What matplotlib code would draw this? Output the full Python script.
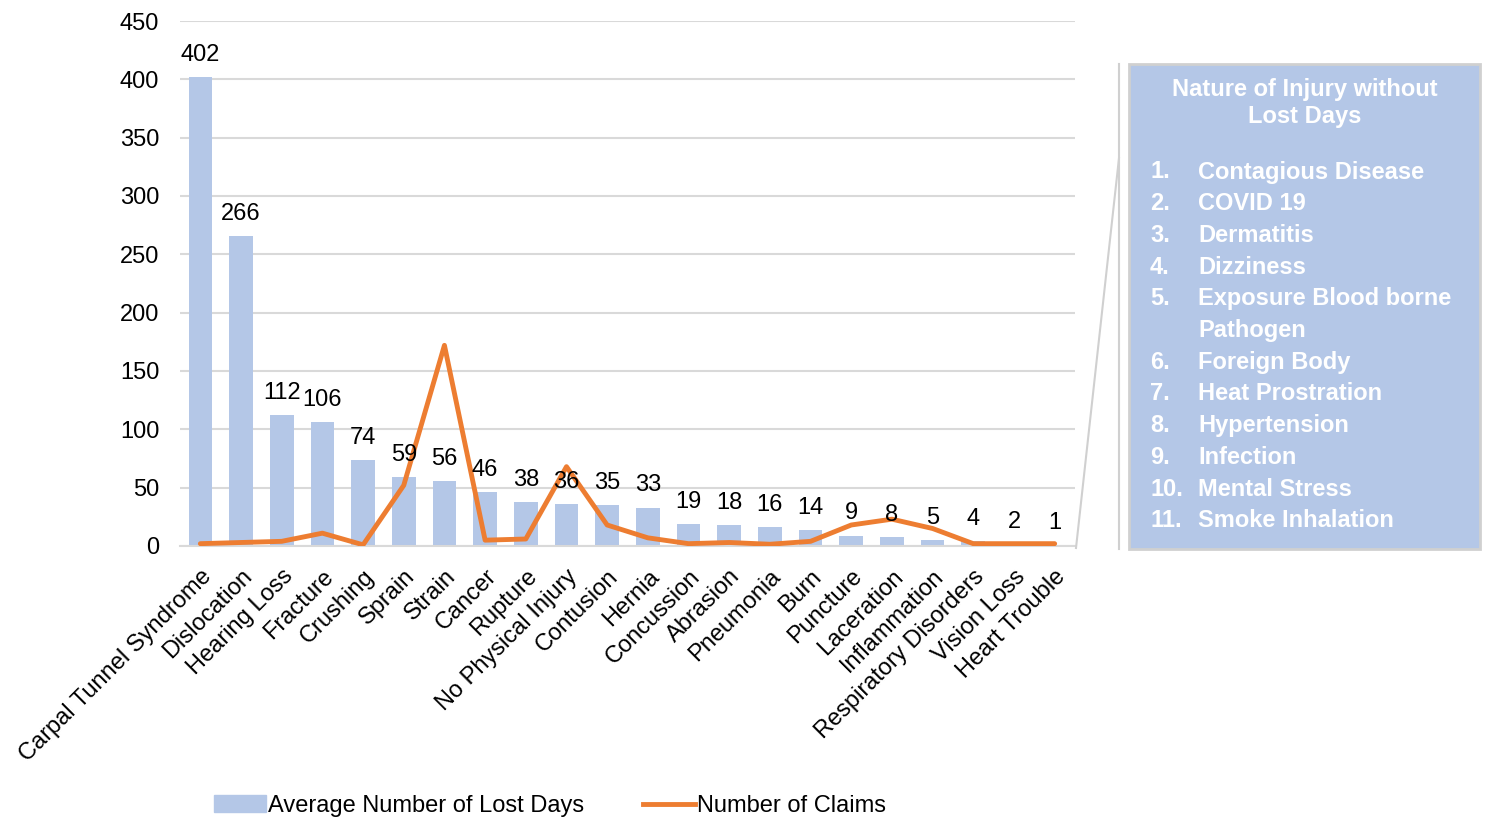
import matplotlib.pyplot as plt
from matplotlib.patches import Rectangle, Patch
from matplotlib.lines import Line2D

plt.rcParams['font.family'] = ['Liberation Sans', 'DejaVu Sans']

categories = ['Carpal Tunnel Syndrome', 'Dislocation', 'Hearing Loss', 'Fracture', 'Crushing',
              'Sprain', 'Strain', 'Cancer', 'Rupture', 'No Physical Injury', 'Contusion',
              'Hernia', 'Concussion', 'Abrasion', 'Pneumonia', 'Burn', 'Puncture',
              'Laceration', 'Inflammation', 'Respiratory Disorders', 'Vision Loss', 'Heart Trouble']
avg_lost_days = [402, 266, 112, 106, 74, 59, 56, 46, 38, 36, 35, 33, 19, 18, 16, 14, 9, 8, 5, 4, 2, 1]
num_claims = [2, 3, 4, 11, 1, 52, 172, 5, 6, 68, 18, 7, 2, 3, 1.5, 4, 18, 23, 15, 2, 2, 2]

no_lost_days = ['Contagious Disease', 'COVID 19', 'Dermatitis', 'Dizziness',
                'Exposure Blood borne\nPathogen', 'Foreign Body', 'Heat Prostration',
                'Hypertension', 'Infection', 'Mental Stress', 'Smoke Inhalation']

bar_color = '#B4C7E7'
line_color = '#ED7D31'
W, H = 1486, 819

fig = plt.figure(figsize=(W / 100, H / 100), dpi=100)
ax = fig.add_axes([180 / W, 1 - 546 / H, (1075 - 180) / W, (546 - 21) / H])

x = list(range(len(categories)))
ax.bar(x, avg_lost_days, width=0.58, color=bar_color, zorder=2)
ax.plot(x, num_claims, color=line_color, lw=3.5, solid_capstyle='round', zorder=3)

for xi, v in zip(x, avg_lost_days):
    ax.annotate(str(v), (xi, v), xytext=(0, 8), textcoords='offset points',
                ha='center', va='bottom', fontsize=17, zorder=4)

ax.set_xlim(-0.5, len(categories) - 0.5)
ax.set_ylim(0, 450)
ax.set_yticks(range(0, 451, 50))
ax.grid(axis='y', color='#D9D9D9', lw=1.5, zorder=0)
ax.set_axisbelow(True)
for s in ['top', 'right', 'left']:
    ax.spines[s].set_visible(False)
ax.spines['bottom'].set_color('#D9D9D9')
ax.spines['bottom'].set_linewidth(1.5)
ax.tick_params(axis='both', length=0, labelsize=17)
ax.tick_params(axis='y', pad=15)
ax.tick_params(axis='x', pad=14)
ax.set_xticks(x)
ax.set_xticklabels(categories, rotation=45, ha='right', rotation_mode='anchor')

# legend
handles = [Patch(color=bar_color), Line2D([], [], color=line_color, lw=3.5)]
fig.legend(handles, ['Average Number of Lost Days', 'Number of Claims'],
           loc='center', bbox_to_anchor=(550 / W, 1 - 806 / H), ncol=2, frameon=False,
           fontsize=17, handlelength=2.2, handletextpad=0.1, columnspacing=2.5)

# callout box
fig.add_artist(Line2D([1119 / W, 1119 / W], [1 - 64 / H, 1 - 549 / H],
                      transform=fig.transFigure, color='#D0D0D0', lw=1.5))
fig.add_artist(Line2D([1119 / W, 1076 / W], [1 - 158 / H, 1 - 548 / H],
                      transform=fig.transFigure, color='#D0D0D0', lw=1.5))
fig.add_artist(Rectangle((1129 / W, 1 - 549 / H), (1480 - 1129) / W, (549 - 64) / H,
                         transform=fig.transFigure, facecolor=bar_color,
                         edgecolor='#D0D0D0', lw=2))

fig.text(1305 / W, 1 - 103 / H, 'Nature of Injury without\nLost Days', ha='center', va='center',
         color='white', fontsize=17, fontweight='bold', linespacing=1.2)

row = 0
for i, item in enumerate(no_lost_days):
    y = 172 + row * 31.7
    fig.text(1150 / W, 1 - y / H, f'{i + 1}.', ha='left', va='center',
             color='white', fontsize=17, fontweight='bold')
    for j, part in enumerate(item.split('\n')):
        fig.text(1198 / W, 1 - (y + j * 31.7) / H, part, ha='left', va='center',
                 color='white', fontsize=17, fontweight='bold')
    row += len(item.split('\n'))

fig.savefig('out.png', dpi=100)
